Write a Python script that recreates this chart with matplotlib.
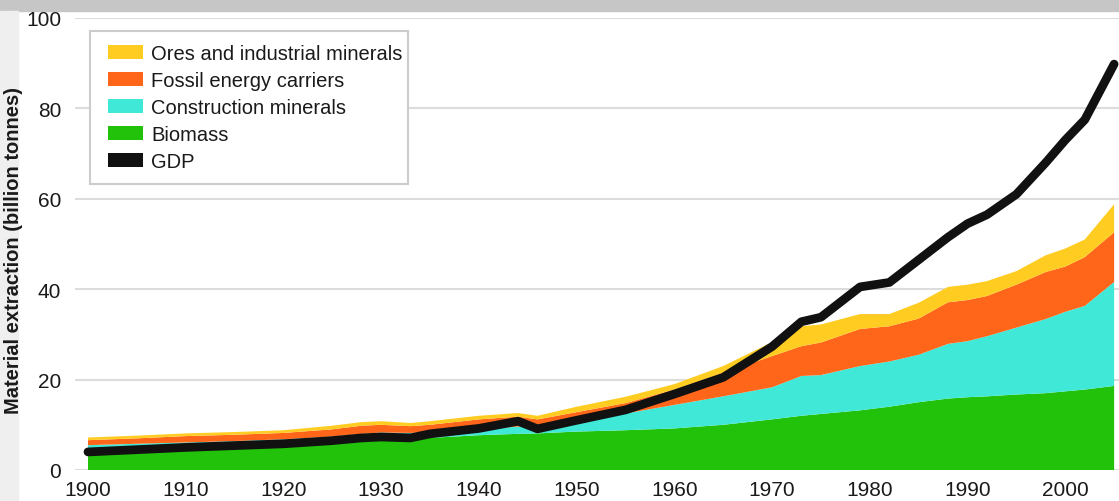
import matplotlib
matplotlib.use("Agg")
import matplotlib.pyplot as plt
from matplotlib.patches import Patch, Rectangle

plt.rcParams['font.family'] = ['Liberation Sans', 'DejaVu Sans']

# years
years = [1900, 1905, 1910, 1915, 1920, 1925, 1928, 1930, 1933, 1935, 1940,
         1944, 1946, 1950, 1955, 1960, 1965, 1970, 1973, 1975, 1979, 1982,
         1985, 1988, 1990, 1992, 1995, 1998, 2000, 2002, 2005]

# material extraction by category (billion tonnes, stacked)
biomass = [4.5, 4.8, 5.1, 5.4, 5.7, 6.2, 6.6, 6.8, 6.8, 7.1, 7.7,
           8.0, 8.1, 8.5, 8.8, 9.2, 10.0, 11.2, 12.0, 12.4, 13.2, 14.0,
           15.0, 15.8, 16.1, 16.3, 16.7, 17.0, 17.4, 17.8, 18.6]
construction = [1.0, 1.0, 1.0, 1.0, 1.1, 1.2, 1.4, 1.5, 1.4, 1.3, 1.3,
                1.6, 1.4, 2.3, 3.7, 5.2, 6.3, 7.1, 8.8, 8.6, 9.8, 10.0,
                10.5, 12.1, 12.4, 13.3, 14.8, 16.4, 17.6, 18.5, 23.0]
fossil = [1.1, 1.2, 1.4, 1.4, 1.4, 1.6, 1.8, 1.7, 1.5, 1.6, 2.2,
          2.2, 1.7, 2.0, 2.3, 3.4, 5.2, 6.9, 6.6, 7.2, 8.2, 7.8,
          8.0, 9.2, 9.1, 8.9, 9.5, 10.4, 10.0, 10.8, 11.0]
ores = [0.6, 0.6, 0.6, 0.6, 0.6, 0.8, 0.8, 0.8, 0.7, 0.8, 0.8,
        0.8, 0.8, 1.2, 1.4, 1.2, 1.5, 3.1, 4.4, 4.0, 3.3, 2.7,
        3.5, 3.4, 3.4, 3.3, 3.0, 3.7, 4.0, 3.9, 6.2]

# GDP line on the same scale
gdp = [4.0, 4.5, 5.0, 5.4, 5.8, 6.5, 7.1, 7.3, 7.1, 8.0, 9.2,
       10.8, 9.1, 11.0, 13.3, 16.8, 20.5, 27.3, 32.8, 33.8, 40.5, 41.5,
       46.5, 51.5, 54.5, 56.5, 61.0, 68.0, 73.0, 77.5, 89.8]

x_ticks = [1900, 1910, 1920, 1930, 1940, 1950, 1960, 1970, 1980, 1990, 2000]
y_ticks = [0, 20, 40, 60, 80, 100]

labels = ['Ores and industrial minerals', 'Fossil energy carriers',
          'Construction minerals', 'Biomass', 'GDP']
colors = {'ores': '#FFCC22', 'fossil': '#FF661A', 'construction': '#40E8D8',
          'biomass': '#22C10A', 'gdp': '#111111'}
text_color = '#1a1a1a'

fig = plt.figure(figsize=(11.19, 5.02), dpi=100)

# screenshot frame: grey band at top, light strip at left
fig.patches.append(Rectangle((0, 1 - 12 / 502), 1, 12 / 502, transform=fig.transFigure,
                             color='#c6c6c6', zorder=-10))
fig.patches.append(Rectangle((0, 0), 18 / 1119, 1 - 12 / 502, transform=fig.transFigure,
                             color='#efefef', zorder=-10))

ax = fig.add_axes([75 / 1119, 31 / 502, 1044 / 1119, 452 / 502])
ax.patch.set_alpha(0)

ax.stackplot(years, biomass, construction, fossil, ores,
             colors=[colors['biomass'], colors['construction'],
                     colors['fossil'], colors['ores']],
             linewidth=0, zorder=2)
ax.plot(years, gdp, color=colors['gdp'], linewidth=6.3,
        solid_joinstyle='round', solid_capstyle='round', zorder=3)

ax.set_xlim(1898.67, 2005.5)
ax.set_ylim(0, 100)
ax.set_xticks(x_ticks)
ax.set_yticks(y_ticks)
ax.grid(axis='y', color='#dcdcdc', linewidth=1.5, zorder=0)
ax.set_axisbelow(True)
for s in ax.spines.values():
    s.set_visible(False)
ax.tick_params(axis='both', length=0, labelsize=15, colors=text_color)
ax.tick_params(axis='y', pad=10)
ax.tick_params(axis='x', pad=7)

ax.set_ylabel('Material extraction (billion tonnes)', fontsize=14.5,
              fontweight='bold', color=text_color)
ax.yaxis.set_label_coords(-0.05, 0.487)

# legend box drawn by hand (the original has more room left of the swatches)
ax.add_patch(Rectangle((0.0144, 0.633), 0.3046, 0.338, transform=ax.transAxes,
                       facecolor='white', edgecolor='#cccccc', linewidth=1.5,
                       zorder=4.5))
handles = [Patch(facecolor=colors['ores']), Patch(facecolor=colors['fossil']),
           Patch(facecolor=colors['construction']), Patch(facecolor=colors['biomass']),
           Patch(facecolor=colors['gdp'])]
leg = ax.legend(handles, labels, loc='upper left', bbox_to_anchor=(0.0316, 0.943),
                borderaxespad=0, fontsize=14.5, frameon=False,
                handlelength=1.75, handleheight=0.7, handletextpad=0.4,
                labelspacing=0.4, borderpad=0)
leg.set_zorder(5)
for t in leg.get_texts():
    t.set_color(text_color)

fig.savefig('out.png', dpi=100)
